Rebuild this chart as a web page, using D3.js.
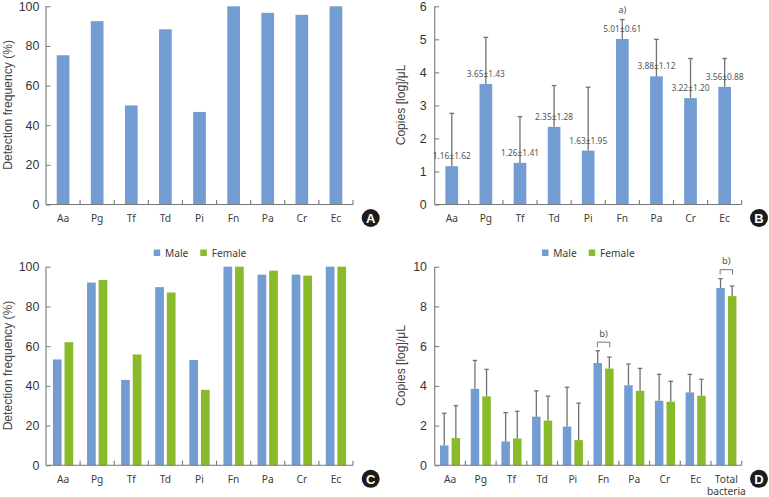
<!DOCTYPE html>
<html><head><meta charset="utf-8">
<script src="https://cdn.jsdelivr.net/npm/d3@7/dist/d3.min.js"></script>
<style>
html,body{margin:0;padding:0;background:#fff}
svg{display:block}
.num{font-family:"Liberation Sans",Arial,sans-serif;font-size:12.4px;fill:#333}
.title{font-family:"Liberation Sans",Arial,sans-serif;font-size:12.1px;fill:#444}
.cat{font-family:"Noto Sans",sans-serif;font-size:10.2px;fill:#3c3c3c}
.lbl{font-family:"Noto Sans",sans-serif;font-size:8.4px;fill:#555}
.mark{font-family:"Noto Sans",sans-serif;font-size:9.4px;fill:#555}
.dom{stroke:#777;stroke-width:1.1;fill:none}
</style></head><body>
<svg id="c" width="769" height="497"></svg>
<script>
const categories = ["Aa","Pg","Tf","Td","Pi","Fn","Pa","Cr","Ec"];
const categoriesD = ["Aa","Pg","Tf","Td","Pi","Fn","Pa","Cr","Ec","Total bacteria"];
const freqAll = [75.3,92.5,50,88.4,46.7,100,96.7,95.7,100];
const copiesAll = [1.16,3.65,1.26,2.35,1.63,5.01,3.88,3.22,3.56];
const copiesAllSd = [1.62,1.43,1.41,1.28,1.95,0.61,1.12,1.20,0.88];
const copiesAllTop = [2.76,5.06,2.66,3.60,3.55,5.60,5.0,4.42,4.42];
const freqMale = [53.3,92,43,89.7,53,100,96,96,100];
const freqFemale = [62,93.3,55.8,87,38,100,98,95.5,100];
const copiesMale = [1.0,3.85,1.2,2.45,1.95,5.15,4.03,3.25,3.67,8.93];
const copiesFemale = [1.37,3.47,1.35,2.25,1.27,4.87,3.75,3.2,3.5,8.52];
const copiesMaleTop = [2.62,5.28,2.65,3.75,3.93,5.77,5.1,4.58,4.58,9.4];
const copiesFemaleTop = [3.0,4.83,2.72,3.48,3.13,5.45,4.88,4.23,4.33,9.03];
const seriesNames = ["Male","Female"];
const BLUE="#739dd2", GREEN="#88ba2a", ERR="#727272";
const svg=d3.select("#c");

function frame(o){
  const g=svg.append("g");
  const x=d3.scaleBand().domain(o.cats).range([o.x0,o.x1]);
  const y=d3.scaleLinear().domain([0,o.max]).range([o.y0,o.y1]);
  const ax=g.append("g").attr("transform",`translate(${o.x0},0)`)
    .call(d3.axisLeft(y).tickValues(d3.range(0,o.max+1e-9,o.step)).tickSize(-4.5).tickPadding(o.pad).tickFormat(d3.format("d")));
  ax.select(".domain").remove();
  ax.selectAll("line").attr("stroke","#777");
  ax.selectAll("text").attr("class","num").attr("fill",null).attr("font-size",null).attr("font-family",null);
  return {g,x,y};
}
function finish(f,o){
  const {g,x,y}=f;
  g.append("line").attr("class","dom").attr("x1",o.x0).attr("x2",o.x1).attr("y1",o.y0).attr("y2",o.y0);
  g.append("line").attr("class","dom").attr("x1",o.x0).attr("x2",o.x0).attr("y1",o.y0).attr("y2",o.y1);
  g.selectAll(".bt").data(o.cats).join("line").attr("class","dom")
    .attr("x1",d=>x(d)+x.step()).attr("x2",d=>x(d)+x.step()).attr("y1",o.y0).attr("y2",o.y0-4.5);
  const labs=g.selectAll(".cl").data(o.cats).join("text").attr("class","cat").attr("text-anchor","middle")
    .attr("x",d=>x(d)+x.step()/2).attr("y",o.y0+17.2);
  labs.each(function(d){
    const w=d.split(" ");
    d3.select(this).selectAll("tspan").data(w).join("tspan")
      .attr("x",x(d)+x.step()/2).attr("dy",(_,i)=>i?12.6:0).text(t=>t);
  });
  g.append("text").attr("class","title").attr("text-anchor","middle")
    .attr("transform",`translate(${o.tx},${(o.y0+o.y1)/2-0.5}) rotate(-90)`).text(o.title);
  g.append("circle").attr("cx",o.bx).attr("cy",o.y0+13.5).attr("r",9).attr("fill","#1c1c1c");
  g.append("text").attr("x",o.bx).attr("y",o.y0+18.2).attr("text-anchor","middle")
    .attr("font-family","'Liberation Sans',sans-serif").attr("font-weight","700").attr("font-size",13).attr("fill","#fff").text(o.badge);
}
function legend(x1,t1,x2,t2){
  const items=[[x1,t1,BLUE,seriesNames[0]],[x2,t2,GREEN,seriesNames[1]]];
  items.forEach(([sx,tx,c,n])=>{
    svg.append("rect").attr("x",sx).attr("y",249.5).attr("width",6.5).attr("height",6.5).attr("fill",c);
    svg.append("text").attr("class","cat").attr("x",tx).attr("y",256.5).text(n);
  });
}
function singleBars(f,vals,cats,bw){
  f.g.selectAll(".b").data(vals).join("rect")
    .attr("x",(d,i)=>f.x(cats[i])+f.x.step()/2-bw/2).attr("width",bw)
    .attr("y",d=>f.y(d)).attr("height",d=>f.y(0)-f.y(d)).attr("fill",BLUE);
}
function groupBars(f,vals,cats,off,bw,c){
  f.g.append("g").selectAll("rect").data(vals).join("rect")
    .attr("x",(d,i)=>f.x(cats[i])+f.x.step()/2+off-bw/2).attr("width",bw)
    .attr("y",d=>f.y(d)).attr("height",d=>f.y(0)-f.y(d)).attr("fill",c);
}
function errs(f,vals,tops,cats,off,cap){
  const g=f.g.append("g").attr("stroke",ERR).attr("stroke-width",1.3);
  vals.forEach((v,i)=>{
    const cx=f.x(cats[i])+f.x.step()/2+off;
    g.append("line").attr("x1",cx).attr("x2",cx).attr("y1",f.y(v)).attr("y2",f.y(tops[i]));
    g.append("line").attr("x1",cx-cap/2).attr("x2",cx+cap/2).attr("y1",f.y(tops[i])).attr("y2",f.y(tops[i]));
  });
}
function bracket(f,cat,val){
  const cx=f.x(cat)+f.x.step()/2, yy=f.y(val);
  svg.append("path").attr("fill","none").attr("stroke","#666").attr("stroke-width",0.9)
    .attr("d",d3.line()([[cx-6.2,yy+5],[cx-6.2,yy],[cx+6.2,yy],[cx+6.2,yy+5]]));
  svg.append("text").attr("class","mark").attr("text-anchor","middle")
    .attr("x",cx).attr("y",yy-5.2).text("b)");
}

// Panel A
const oA={cats:categories,x0:46,x1:353,y0:204.5,y1:6.3,max:100,step:20,pad:6.7,tx:11.5,title:"Detection frequency (%)",bx:370.7,badge:"A"};
const fA=frame(oA); singleBars(fA,freqAll,categories,12.7); finish(fA,oA);

// Panel B
const oB={cats:categories,x0:434.7,x1:741.7,y0:204.5,y1:6.3,max:6,step:1,pad:8,tx:405,title:"Copies [log]/μL",bx:759,badge:"B"};
const fB=frame(oB); singleBars(fB,copiesAll,categories,12.7);
errs(fB,copiesAll,copiesAllTop,categories,0,4.7);
finish(fB,oB);
fB.g.selectAll(".vl").data(copiesAll).join("text").attr("class","lbl").attr("text-anchor","middle")
  .attr("x",(d,i)=>fB.x(categories[i])+fB.x.step()/2).attr("y",d=>fB.y(d)-7)
  .text((d,i)=>d.toFixed(2)+"±"+copiesAllSd[i].toFixed(2));
fB.g.append("text").attr("class","mark").attr("text-anchor","middle")
  .attr("x",fB.x("Fn")+fB.x.step()/2).attr("y",13.4).text("a)");

// Panel C
const oC={cats:categories,x0:46,x1:353,y0:465.3,y1:266.7,max:100,step:20,pad:6.7,tx:11.5,title:"Detection frequency (%)",bx:370.7,badge:"C"};
const fC=frame(oC);
groupBars(fC,freqMale,categories,-5.8,8.7,BLUE); groupBars(fC,freqFemale,categories,5.8,8.7,GREEN);
finish(fC,oC); legend(153.7,165,200.3,211.7);

// Panel D
const oD={cats:categoriesD,x0:434.7,x1:741.7,y0:465.3,y1:266.7,max:10,step:2,pad:7.7,tx:405,title:"Copies [log]/μL",bx:759,badge:"D"};
const fD=frame(oD);
groupBars(fD,copiesMale,categoriesD,-5.8,8.5,BLUE); groupBars(fD,copiesFemale,categoriesD,5.8,8.5,GREEN);
errs(fD,copiesMale,copiesMaleTop,categoriesD,-5.8,4.5); errs(fD,copiesFemale,copiesFemaleTop,categoriesD,5.8,4.5);
finish(fD,oD); legend(542,553.3,588.7,600);
bracket(fD,"Fn",6.2); bracket(fD,"Total bacteria",9.85);
</script>
</body></html>
